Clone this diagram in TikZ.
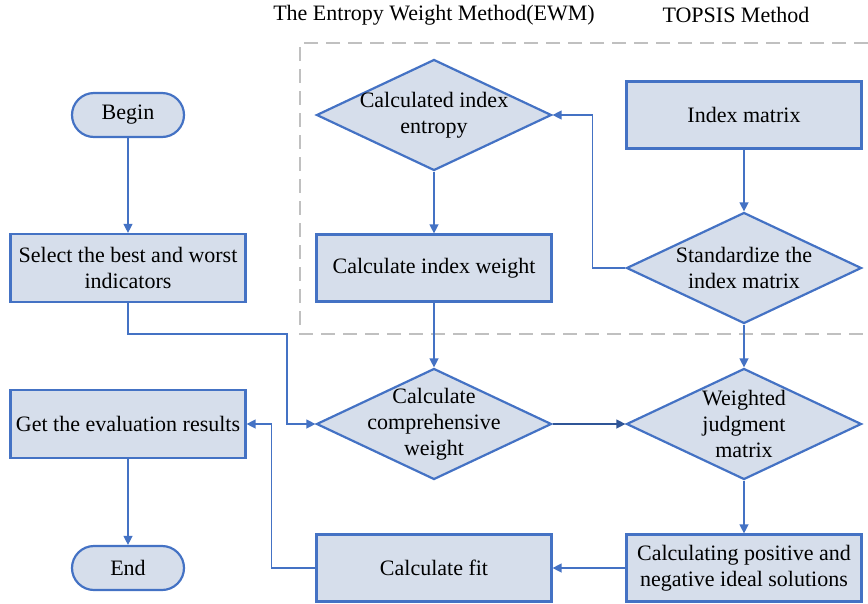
\documentclass[tikz,border=0pt]{standalone}
\usepackage{fontspec}
\setmainfont{Liberation Serif}
\definecolor{boxFill}{HTML}{D6DEEB}
\definecolor{boxLine}{HTML}{4472C4}
\definecolor{flowDark}{HTML}{2F5597}
\definecolor{frameGray}{HTML}{C0C0C0}
\usetikzlibrary{positioning, shapes.geometric, arrows.meta}
\tikzset{
  procBox/.style={rectangle, draw=boxLine, fill=boxFill, line width=2.2pt,
    minimum width=235pt, minimum height=67pt, align=center, inner sep=2pt},
  termBox/.style={rectangle, rounded corners=22pt, draw=boxLine, fill=boxFill,
    line width=2.2pt, minimum width=112pt, minimum height=44pt},
  decBox/.style={diamond, draw=boxLine, fill=boxFill, line width=2.2pt,
    minimum width=235pt, minimum height=111pt, inner sep=0pt},
  flowArrow/.style={draw=boxLine, line width=1.3pt, -{Triangle[length=9pt, width=9pt]}}
}
\begin{document}
\begin{tikzpicture}[x=1pt, y=-1pt, font=\fontsize{22pt}{26pt}\selectfont]
      \useasboundingbox (0,0) rectangle (868,603);
      \draw[frameGray, line width=1.5pt, dash pattern=on 14pt off 8pt]
        (868,43) -- (300,43) -- (300,334) -- (868,334);
      \node (ewmTitle) at (434,15) {The Entropy Weight Method(EWM)};
      \node (topsisTitle) at (736,15) {TOPSIS Method};

      \node[termBox] (begin) at (128,115) {Begin};
      \node[procBox, minimum height=68pt] (select) at (128,268) {Select the best and worst\\indicators};
      \node[procBox, minimum height=68pt] (result) at (128,424) {Get the evaluation results};
      \node[termBox] (end) at (128,568) {End};

      \node[decBox, label={[align=center]center:Calculated index\\entropy}] (entropy) at (434,115) {};
      \node[procBox] (weight) at (434,268) {Calculate index weight};
      \node[decBox, label={[align=center]center:Calculate\\comprehensive\\weight}] (comp) at (434,424) {};
      \node[procBox] (fit) at (434,568) {Calculate fit};

      \node[procBox] (matrix) at (744,115) {Index matrix};
      \node[decBox, label={[align=center]center:Standardize the\\index matrix}] (standard) at (744,268) {};
      \node[decBox, label={[align=center]center:Weighted\\judgment\\matrix}] (judge) at (744,424) {};
      \node[procBox] (ideal) at (744,568) {Calculating positive and\\negative ideal solutions};

      \coordinate (bend) at (287,334);
      \draw[flowArrow] (begin) -- (select);
      \draw[flowArrow] (select.south) |- (bend) |- (comp.west);
      \draw[flowArrow] (entropy) -- (weight);
      \draw[flowArrow] (weight) -- (comp);
      \draw[flowArrow] (matrix) -- (standard);
      \draw[flowArrow] (standard.west) -- ++(-33,0) |- (entropy.east);
      \draw[flowArrow] (standard) -- (judge);
      \draw[flowArrow, draw=flowDark] (comp.east) -- (judge.west);
      \draw[flowArrow] (judge) -- (ideal);
      \draw[flowArrow] (ideal) -- (fit);
      \draw[flowArrow] (fit.west) -- ++(-44,0) |- (result.east);
      \draw[flowArrow] (result) -- (end);
    \end{tikzpicture}
\end{document}
